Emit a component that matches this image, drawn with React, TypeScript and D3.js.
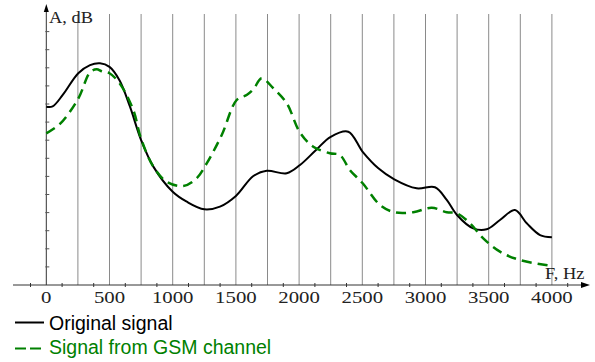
import React from "react";
import * as d3 from "d3";

const W = 595;
const H = 362;

// Frequencies (Hz) and amplitudes (relative units, one unit per y tick)
const origFreq = [0, 50, 130, 253, 346, 425, 500, 580, 662, 750, 847, 1000, 1111, 1250, 1374, 1500, 1638, 1744, 1902, 2007, 2134, 2250, 2389, 2503, 2627, 2753, 2930, 3075, 3168, 3249, 3378, 3484, 3589, 3708, 3801, 3906, 4000];
const origAmp = [9.85, 9.87, 10.5, 11.7, 12.15, 12.25, 12.05, 11.3, 9.85, 8.01, 6.54, 5.15, 4.6, 4.18, 4.33, 4.92, 6.02, 6.31, 6.17, 6.63, 7.46, 8.19, 8.47, 7.36, 6.45, 5.84, 5.34, 5.4, 4.7, 3.87, 3.13, 3.08, 3.59, 4.14, 3.41, 2.76, 2.64];

const gsmFreq = [0, 108, 253, 346, 399, 440, 500, 580, 688, 749, 847, 952, 1084, 1190, 1269, 1388, 1506, 1585, 1638, 1704, 1796, 1902, 2005, 2112, 2244, 2323, 2402, 2503, 2640, 2753, 2903, 3049, 3168, 3249, 3352, 3457, 3589, 3747, 4000];
const gsmAmp = [8.38, 8.9, 10.3, 11.75, 11.92, 11.8, 11.7, 11.14, 9.67, 8.1, 6.54, 5.71, 5.47, 5.9, 6.72, 8.29, 10.22, 10.5, 10.81, 11.42, 10.87, 10.04, 8.45, 7.64, 7.28, 7.18, 6.35, 5.62, 4.42, 4.02, 4.02, 4.27, 4.02, 3.96, 3.41, 2.58, 1.84, 1.38, 1.05];

const xTickLabels = [0, 500, 1000, 1500, 2000, 2500, 3000, 3500, 4000];
const gridFreqs = d3.range(250, 4001, 250);
const minorFreqs = d3.range(-125, 4250, 250);
const yTickValues = d3.range(1, 15, 1);

const seriesNames = ["Original signal", "Signal from GSM channel"];
const seriesColors = ["#000000", "#008000"];

export default function App() {
  const x = d3.scaleLinear().domain([0, 4000]).range([46.3, 551.9]);
  const y = d3.scaleLinear().domain([0, 14]).range([285, 31.6]);
  const axisY = y(0);
  const axisX = x(0);

  const line = d3
    .line<[number, number]>()
    .x((d) => x(d[0]))
    .y((d) => y(d[1]))
    .curve(d3.curveCatmullRom.alpha(0.5));

  const origPts = origFreq.map((f, i) => [f, origAmp[i]] as [number, number]);
  const gsmPts = gsmFreq.map((f, i) => [f, gsmAmp[i]] as [number, number]);

  const serif = "'Liberation Serif', 'Times New Roman', serif";
  const sans = "'Liberation Sans', Arial, sans-serif";
  const sx = 1.15;

  return (
    <svg
      width={W}
      height={H}
      style={{ position: "absolute", left: 0, top: 0, background: "#fff" }}
    >
      {/* grid lines */}
      {gridFreqs.map((f) => (
        <line
          key={"g" + f}
          x1={x(f)}
          x2={x(f)}
          y1={14}
          y2={axisY}
          stroke="#8a8a8a"
          strokeWidth={1}
        />
      ))}
      {/* x axis */}
      <line x1={13} x2={584} y1={axisY} y2={axisY} stroke="#333" strokeWidth={1} />
      <path d={`M590,${axisY} L581,${axisY - 3} L581,${axisY + 3} Z`} fill="#000" />
      {minorFreqs.map((f) => (
        <line key={"m" + f} x1={x(f)} x2={x(f)} y1={axisY - 2} y2={axisY + 2} stroke="#333" />
      ))}
      {/* y axis */}
      <line x1={axisX} x2={axisX} y1={10} y2={axisY} stroke="#333" strokeWidth={1} />
      <path d={`M${axisX},4 L${axisX - 2.5},12 L${axisX + 2.5},12 Z`} fill="#000" />
      {yTickValues.map((v) => (
        <line key={"y" + v} x1={axisX - 1} x2={axisX + 3} y1={y(v)} y2={y(v)} stroke="#555" />
      ))}

      {/* tick labels */}
      {xTickLabels.map((f) => (
        <text
          key={"t" + f}
          transform={`translate(${x(f)},302.5) scale(1.3,1)`}
          textAnchor="middle"
          fontFamily={serif}
          fontSize={16}
          fill="#222"
        >
          {f}
        </text>
      ))}
      <text transform={`translate(49,23) scale(${sx},1)`} fontFamily={serif} fontSize={16} fill="#222">
        A, dB
      </text>
      <text transform={`translate(545,279) scale(${sx},1)`} fontFamily={serif} fontSize={16} fill="#222">
        F, Hz
      </text>

      {/* curves */}
      <path d={line(origPts) || ""} fill="none" stroke={seriesColors[0]} strokeWidth={2} />
      <path
        d={line(gsmPts) || ""}
        fill="none"
        stroke={seriesColors[1]}
        strokeWidth={2.5}
        strokeDasharray="10,6"
      />

      {/* legend */}
      <line x1={15} x2={44} y1={322.5} y2={322.5} stroke={seriesColors[0]} strokeWidth={2} />
      <text x={49} y={330} fontFamily={sans} fontSize={19.5} fill={seriesColors[0]}>
        {seriesNames[0]}
      </text>
      <line
        x1={15}
        x2={44}
        y1={348.5}
        y2={348.5}
        stroke={seriesColors[1]}
        strokeWidth={2}
        strokeDasharray="11,4"
      />
      <text x={49} y={353.5} fontFamily={sans} fontSize={19.5} fill={seriesColors[1]}>
        {seriesNames[1]}
      </text>
    </svg>
  );
}
